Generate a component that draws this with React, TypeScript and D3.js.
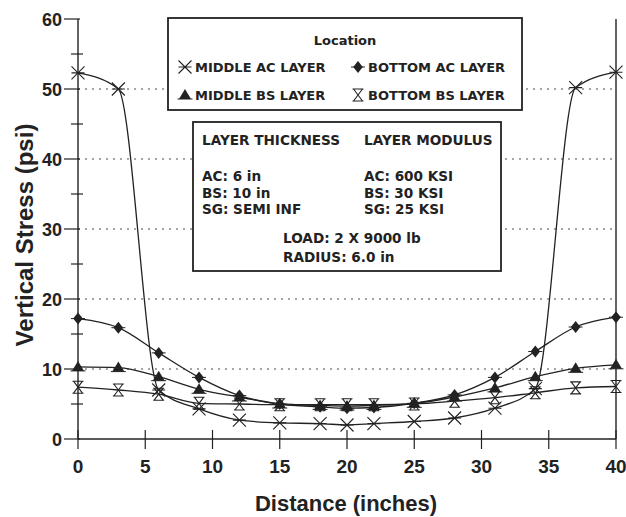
import React from "react";
import * as d3 from "d3";

const distance = [0, 3, 6, 9, 12, 15, 18, 20, 22, 25, 28, 31, 34, 37, 40];
const middleAC = [52.3, 50.0, 7.0, 4.3, 2.7, 2.3, 2.2, 2.0, 2.2, 2.5, 3.0, 4.4, 7.2, 50.2, 52.4];
const bottomAC = [17.2, 15.9, 12.3, 8.8, 6.2, 5.0, 4.6, 4.4, 4.5, 5.1, 6.3, 8.8, 12.5, 16.0, 17.4];
const middleBS = [10.3, 10.2, 8.9, 7.1, 6.0, 5.0, 4.8, 4.7, 4.8, 5.1, 6.0, 7.3, 8.9, 10.1, 10.6];
const bottomBS = [7.4, 7.0, 6.4, 5.1, 5.0, 4.9, 4.9, 4.9, 4.9, 5.0, 5.4, 5.9, 6.6, 7.3, 7.5];

const xTicks = [0, 5, 10, 15, 20, 25, 30, 35, 40];
const yTicks = [0, 10, 20, 30, 40, 50, 60];
const yMinor = [5, 15, 25, 35, 45, 55];
const gridValues = [10, 20, 30, 40, 50];

const seriesNames = ["MIDDLE AC LAYER", "BOTTOM AC LAYER", "MIDDLE BS LAYER", "BOTTOM BS LAYER"];
const seriesKinds = ["x", "diamond", "triangle", "hourglass"];
const seriesValues = [middleAC, bottomAC, middleBS, bottomBS];

const FONT = "'Liberation Sans', Arial, Helvetica, sans-serif";
const WIDE = "'DejaVu Sans', Verdana, sans-serif";
const INK = "#222";

function Marker({ kind, cx, cy }: { kind: string; cx: number; cy: number }) {
  const s = 6.5;
  if (kind === "x") {
    return (
      <g stroke={INK} strokeWidth={1.1} fill="none">
        <path d={`M${cx - s},${cy - s}L${cx + s},${cy + s}M${cx - s},${cy + s}L${cx + s},${cy - s}M${cx - s},${cy}L${cx + s},${cy}`} />
      </g>
    );
  }
  if (kind === "diamond") {
    return (
      <g>
        <path d={`M${cx},${cy - 6}L${cx + 4.8},${cy}L${cx},${cy + 6}L${cx - 4.8},${cy}Z`} fill={INK} />
        <path d={`M${cx - 7},${cy}L${cx + 7},${cy}`} stroke={INK} strokeWidth={1} />
      </g>
    );
  }
  if (kind === "triangle") {
    return (
      <g>
        <path d={`M${cx},${cy - 6}L${cx + 6},${cy + 4}L${cx - 6},${cy + 4}Z`} fill={INK} />
        <path d={`M${cx - 7.5},${cy + 4}L${cx + 7.5},${cy + 4}`} stroke={INK} strokeWidth={1} />
      </g>
    );
  }
  return (
    <g stroke={INK} strokeWidth={1.1} fill="none">
      <path d={`M${cx - 5.5},${cy - 6}L${cx + 5.5},${cy - 6}M${cx - 5.5},${cy + 6}L${cx + 5.5},${cy + 6}M${cx - 4.5},${cy - 6}L${cx + 4.5},${cy + 6}M${cx + 4.5},${cy - 6}L${cx - 4.5},${cy + 6}`} />
    </g>
  );
}

export default function App() {
  const W = 626;
  const H = 517;
  const x = d3.scaleLinear().domain([0, 40]).range([78, 616]);
  const y = d3.scaleLinear().domain([0, 60]).range([439, 19]);
  const line = d3
    .line<number>()
    .x((_, i) => x(distance[i]))
    .y((v) => y(v))
    .curve(d3.curveMonotoneX);

  return (
    <svg
      width={W}
      height={H}
      style={{ position: "absolute", left: 0, top: 0, background: "#fff" }}
      fontFamily={FONT}
    >
      <rect x={0} y={0} width={W} height={H} fill="#fff" />
      {/* gridlines */}
      {gridValues.map((g) => (
        <line key={g} x1={x(0)} x2={x(40)} y1={y(g)} y2={y(g)} stroke="#888" strokeWidth={1.3} strokeDasharray="2,5" />
      ))}
      {/* axes */}
      <line x1={x(0)} x2={x(0)} y1={y(0)} y2={y(60)} stroke={INK} strokeWidth={1.4} />
      <line x1={x(40)} x2={x(40)} y1={y(0)} y2={y(60)} stroke={INK} strokeWidth={1.4} />
      <line x1={x(0)} x2={x(40)} y1={y(0)} y2={y(0)} stroke={INK} strokeWidth={1.4} />
      {yTicks.map((t) => (
        <g key={t}>
          <line x1={x(0) - 14} x2={x(0) + 2} y1={y(t)} y2={y(t)} stroke={INK} strokeWidth={1.2} />
          <text x={x(0) - 16} y={y(t) + 6.5} textAnchor="end" fontSize={18} fontWeight="bold" fill={INK}>
            {t}
          </text>
        </g>
      ))}
      {yMinor.map((t) => (
        <line key={t} x1={x(0) - 7} x2={x(0) + 5} y1={y(t)} y2={y(t)} stroke={INK} strokeWidth={1.2} />
      ))}
      {xTicks.map((t) => (
        <g key={t}>
          <line x1={x(t)} x2={x(t)} y1={y(0) - 9} y2={y(0) + 10} stroke={INK} strokeWidth={1.2} />
          <text x={x(t)} y={y(0) + 34} textAnchor="middle" fontSize={19} fontWeight="bold" fill={INK}>
            {t}
          </text>
        </g>
      ))}
      {/* axis titles */}
      <text
        transform={`translate(33,235) rotate(-90)`}
        textAnchor="middle"
        fontSize={24}
        fontWeight="bold"
        fill={INK}
      >
        Vertical Stress (psi)
      </text>
      <text x={346} y={511} textAnchor="middle" fontSize={22} fontWeight="bold" fill={INK}>
        Distance (inches)
      </text>

      {/* legend box */}
      <rect x={168} y={18} width={354} height={92} fill="#fff" stroke={INK} strokeWidth={1.8} />
      <text x={345} y={45} textAnchor="middle" fontSize={13} fontWeight="bold" fontFamily={WIDE} fill={INK}>
        Location
      </text>
      {seriesNames.map((name, i) => {
        const col = i % 2;
        const row = Math.floor(i / 2);
        const sx = col === 0 ? 185 : 358;
        const sy = row === 0 ? 72 : 100;
        return (
          <g key={name}>
            <Marker kind={seriesKinds[i]} cx={sx} cy={sy - 5} />
            <text x={sx + 10} y={sy} fontSize={13} fontWeight="bold" fontFamily={WIDE} fill={INK}>
              {name}
            </text>
          </g>
        );
      })}

      {/* info box */}
      <rect x={193} y={122} width={308} height={149} fill="#fff" stroke={INK} strokeWidth={1.8} />
      <g fontSize={13.6} fontWeight="bold" fontFamily={WIDE} fill={INK}>
        <text x={202} y={145}>LAYER THICKNESS</text>
        <text x={364} y={145}>LAYER MODULUS</text>
        <text x={202} y={181}>AC: 6 in</text>
        <text x={202} y={197.5}>BS: 10 in</text>
        <text x={202} y={214}>SG: SEMI INF</text>
        <text x={364} y={181}>AC: 600 KSI</text>
        <text x={364} y={197.5}>BS: 30 KSI</text>
        <text x={364} y={214}>SG: 25 KSI</text>
        <text x={283} y={243}>LOAD: 2 X 9000 lb</text>
        <text x={283} y={261.5}>RADIUS: 6.0 in</text>
      </g>

      {/* series */}
      {seriesValues.map((vals, si) => (
        <g key={si}>
          <path d={line(vals) || ""} fill="none" stroke={INK} strokeWidth={1.3} />
          {vals.map((v, i) => (
            <Marker key={i} kind={seriesKinds[si]} cx={x(distance[i])} cy={y(v)} />
          ))}
        </g>
      ))}
    </svg>
  );
}
